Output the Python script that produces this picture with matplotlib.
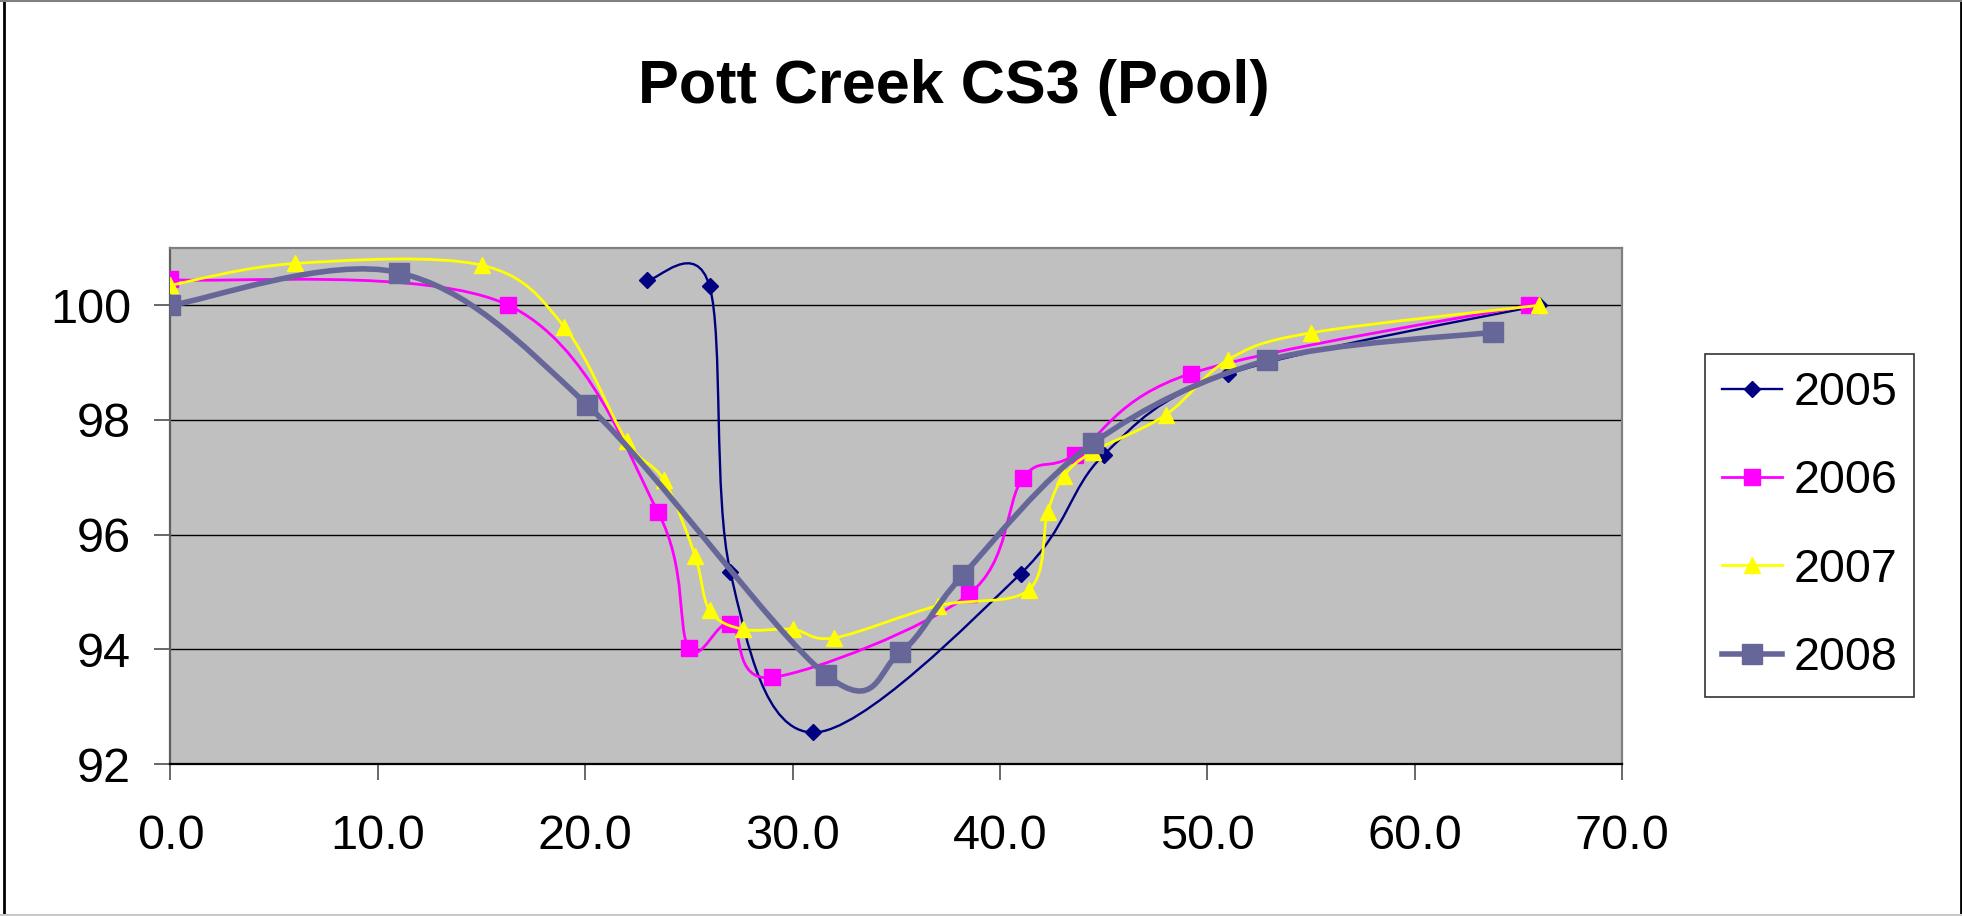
import numpy as np
import matplotlib
matplotlib.use("Agg")
import matplotlib.pyplot as plt
from matplotlib.path import Path
from matplotlib.patches import PathPatch
from matplotlib.lines import Line2D

# =========================
# DATA
# =========================
x_2005 = [23.0, 26.0, 27.0, 31.0, 41.0, 45.0, 51.0, 66.0]
y_2005 = [100.44, 100.33, 95.35, 92.55, 95.32, 97.39, 98.80, 100.0]

x_2006 = [0.0, 16.3, 23.5, 25.0, 27.0, 29.0, 38.5, 41.1, 43.6, 49.2, 65.5]
y_2006 = [100.45, 100.0, 96.4, 94.02, 94.45, 93.51, 94.96, 96.98, 97.39, 98.81, 100.0]

x_2007 = [0.0, 6.0, 15.0, 19.0, 22.0, 23.8, 25.3, 26.0, 27.6, 30.0, 32.0,
          37.0, 41.4, 42.3, 43.1, 44.5, 48.0, 51.0, 55.0, 66.0]
y_2007 = [100.35, 100.73, 100.7, 99.62, 97.63, 96.95, 95.63, 94.68, 94.35, 94.35, 94.2,
          94.76, 95.04, 96.39, 97.03, 97.45, 98.09, 99.05, 99.52, 100.0]

x_2008 = [0.0, 11.0, 20.1, 31.6, 35.2, 38.2, 44.5, 52.9, 63.8]
y_2008 = [100.0, 100.57, 98.26, 93.56, 93.95, 95.29, 97.6, 99.04, 99.53]

years = ["2005", "2006", "2007", "2008"]
title = "Pott Creek CS3 (Pool)"
x_ticks = [0, 10, 20, 30, 40, 50, 60, 70]
y_ticks = [92, 94, 96, 98, 100]

# =========================
# STYLE
# =========================
styles = {
    "2005": dict(color="#000080", marker="D", ms=8.0, lw=1.7),
    "2006": dict(color="#FF00FF", marker="s", ms=11.0, lw=2.0),
    "2007": dict(color="#FFFF00", marker="^", ms=11.0, lw=2.0),
    "2008": dict(color="#666699", marker="s", ms=14.0, lw=4.0),
}

plt.rcParams["font.family"] = ["Liberation Sans", "DejaVu Sans"]


def smooth_path(xs, ys):
    # Excel-style smoothed line: Catmull-Rom segments as cubic Beziers
    pts = np.column_stack([xs, ys]).astype(float)
    n = len(pts)
    verts = [pts[0]]
    codes = [Path.MOVETO]
    for i in range(n - 1):
        p0 = pts[i - 1] if i > 0 else pts[i]
        p1 = pts[i]
        p2 = pts[i + 1]
        p3 = pts[i + 2] if i + 2 < n else pts[i + 1]
        verts += [p1 + (p2 - p0) / 6.0, p2 - (p3 - p1) / 6.0, p2]
        codes += [Path.CURVE4] * 3
    return Path(verts, codes)


# =========================
# PLOT
# =========================
fig = plt.figure(figsize=(19.62, 9.16), dpi=100)
ax = fig.add_axes([0.0869, 0.1659, 0.7398, 0.5634])
ax.set_facecolor("#C0C0C0")

series = {
    "2005": (x_2005, y_2005),
    "2006": (x_2006, y_2006),
    "2007": (x_2007, y_2007),
    "2008": (x_2008, y_2008),
}

handles = []
for k, yr in enumerate(years):
    xs, ys = series[yr]
    st = styles[yr]
    patch = PathPatch(smooth_path(xs, ys), fill=False, edgecolor=st["color"],
                      lw=st["lw"], zorder=3 + 2 * k, capstyle="round", joinstyle="round")
    ax.add_patch(patch)
    ax.plot(xs, ys, linestyle="none", marker=st["marker"], ms=st["ms"],
            color=st["color"], mec=st["color"], zorder=4 + 2 * k)
    handles.append(Line2D([], [], color=st["color"], lw=st["lw"], marker=st["marker"],
                          ms=st["ms"], mec=st["color"]))

ax.set_xlim(0, 70)
ax.set_ylim(92, 101)
ax.set_xticks(x_ticks)
ax.set_xticklabels([f"{v:.1f}" for v in x_ticks])
ax.set_yticks(y_ticks)
ax.set_yticklabels([str(v) for v in y_ticks])

ax.yaxis.grid(True, color="black", lw=1.0)
ax.set_axisbelow(True)

ax.tick_params(axis="both", direction="out", length=11.5, width=1.1,
               color="#404040", labelsize=35)
ax.tick_params(axis="x", pad=24.5)
ax.tick_params(axis="y", pad=17)

for side in ["top", "right"]:
    ax.spines[side].set_color("#808080")
    ax.spines[side].set_linewidth(1.6)
ax.spines["left"].set_color("#606060")
ax.spines["left"].set_linewidth(1.6)
ax.spines["bottom"].set_color("black")
ax.spines["bottom"].set_linewidth(1.6)

fig.text(954 / 1962, 1 - 88 / 916, title, ha="center", va="center",
         fontsize=44, fontweight="bold")

leg = fig.legend(handles, years, loc="center", bbox_to_anchor=(0.9223, 0.4263),
                 fontsize=33.5, frameon=True, fancybox=False, handlelength=1.3,
                 handletextpad=0.24, labelspacing=0.95, borderpad=0.36,
                 borderaxespad=0.0)
leg.get_frame().set_edgecolor("black")
leg.get_frame().set_linewidth(1.2)

# chart-area border
fig.add_artist(Line2D([4 / 1962, 4 / 1962], [0.0, 1.0], transform=fig.transFigure,
                      color="black", lw=2.0))
fig.add_artist(Line2D([1960.5 / 1962, 1960.5 / 1962], [0.0, 1.0], transform=fig.transFigure,
                      color="black", lw=2.0))
fig.add_artist(Line2D([0.0, 1.0], [0.999, 0.999], transform=fig.transFigure,
                      color="#808080", lw=1.5))
fig.add_artist(Line2D([0.0, 1.0], [0.001, 0.001], transform=fig.transFigure,
                      color="#C8C8C8", lw=1.5))

fig.savefig("out.png", dpi=100)
